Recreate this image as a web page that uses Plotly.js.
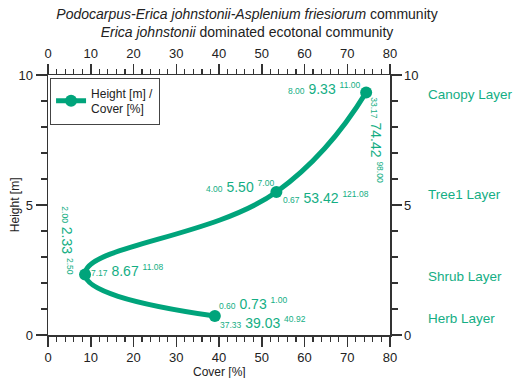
<!DOCTYPE html>
<html>
<head>
<meta charset="utf-8">
<script src="https://cdn.plot.ly/plotly-3.0.1.min.js"></script>
<style>
  html, body { margin: 0; padding: 0; background: #fff; }
  #chart { width: 520px; height: 378px; }
</style>
</head>
<body>
<div id="chart"></div>
<script>
// Vegetation layers, ordered from the ground up
const layers = ['Herb Layer', 'Shrub Layer', 'Tree1 Layer', 'Canopy Layer'];

// Height [m]: mean with min / max
const heightMean = [0.73, 2.33, 5.50, 9.33];
const heightMin  = [0.60, 2.00, 4.00, 8.00];
const heightMax  = [1.00, 2.50, 7.00, 11.00];

// Cover [%]: mean with min / max
const coverMean = [39.03, 8.67, 53.42, 74.42];
const coverMin  = [37.33, 7.17, 0.67, 33.17];
const coverMax  = [40.92, 11.08, 121.08, 98.00];

const GREEN = '#00A47B';
const TEXT_GREEN = '#14AE84';
const FONT = 'Liberation Sans, Arial, sans-serif';
const INK = '#333';

function fmt(v) { return v.toFixed(2); }
// "min  MEAN  max" with the extremes in a small font, max raised
function rangeLabel(lo, mid, hi) {
  return '<span style="font-size:8.5px">' + fmt(lo) + '</span> ' + fmt(mid) +
         ' <sup><span style="font-size:8.5px">' + fmt(hi) + '</span></sup>';
}

const profile = {
  x: coverMean,
  y: heightMean,
  mode: 'lines+markers',
  name: 'Height [m] /<br>Cover [%]',
  line: { color: GREEN, width: 5, shape: 'spline', smoothing: 1.3 },
  marker: { color: GREEN, size: 12 },
  xaxis: 'x', yaxis: 'y'
};
// invisible trace carrying the top / right axes
const topRight = {
  x: [0], y: [0], mode: 'markers', marker: { opacity: 0 },
  showlegend: false, hoverinfo: 'skip', xaxis: 'x2', yaxis: 'y2'
};

// label placement around each point (pixel offsets)
const heightPlace = [
  { xanchor: 'left',   xshift: 2,   yshift: 13, angle: 0 },
  { xanchor: 'center', xshift: -18, yshift: 34, angle: 90 },
  { xanchor: 'right',  xshift: 0,   yshift: 6,  angle: 0 },
  { xanchor: 'right',  xshift: -4,  yshift: 4,  angle: 0 }
];
const coverPlace = [
  { xanchor: 'left',   xshift: 3,  yshift: -6,  angle: 0 },
  { xanchor: 'left',   xshift: 4,  yshift: 4,   angle: 0 },
  { xanchor: 'left',   xshift: 5,  yshift: -5,  angle: 0 },
  { xanchor: 'center', xshift: 10, yshift: -48, angle: 90 }
];

const annotations = [];
layers.forEach((name, i) => {
  const hp = heightPlace[i], cp = coverPlace[i];
  annotations.push({
    x: coverMean[i], y: heightMean[i], xref: 'x', yref: 'y',
    text: rangeLabel(heightMin[i], heightMean[i], heightMax[i]),
    showarrow: false, xanchor: hp.xanchor, yanchor: 'middle',
    xshift: hp.xshift, yshift: hp.yshift, textangle: hp.angle,
    font: { family: FONT, size: 14, color: TEXT_GREEN }
  });
  annotations.push({
    x: coverMean[i], y: heightMean[i], xref: 'x', yref: 'y',
    text: rangeLabel(coverMin[i], coverMean[i], coverMax[i]),
    showarrow: false, xanchor: cp.xanchor, yanchor: 'middle',
    xshift: cp.xshift, yshift: cp.yshift, textangle: cp.angle,
    font: { family: FONT, size: 14, color: TEXT_GREEN }
  });
  // layer name beside the right axis
  annotations.push({
    x: 1, y: heightMean[i], xref: 'paper', yref: 'y',
    text: name, showarrow: false, xanchor: 'left', yanchor: 'middle',
    xshift: 36, yshift: -2,
    font: { family: FONT, size: 13.5, color: TEXT_GREEN }
  });
});

// axis titles
const titleFont = { family: FONT, size: 12, color: '#222' };
annotations.push({
  x: 0.5, y: -0.142, xref: 'paper', yref: 'paper', text: 'Cover [%]',
  showarrow: false, xanchor: 'center', yanchor: 'middle', font: titleFont
});
annotations.push({
  x: -0.096, y: 0.5, xref: 'paper', yref: 'paper', text: 'Height [m]',
  showarrow: false, xanchor: 'center', yanchor: 'middle', textangle: -90, font: titleFont
});

const tickFont = { family: FONT, size: 13, color: '#222' };
const axisCommon = {
  showgrid: false, zeroline: false, showline: true,
  linecolor: INK, linewidth: 1.5,
  ticks: 'outside', ticklen: 10, tickwidth: 1.5, tickcolor: INK,
  tickfont: tickFont
};
const minorX = { dtick: 2, ticks: 'outside', ticklen: 5, tickwidth: 1.2, tickcolor: INK };
const minorY = { dtick: 1, ticks: 'outside', ticklen: 6, tickwidth: 1.2, tickcolor: INK };

const layout = {
  width: 520, height: 378,
  margin: { l: 48, r: 130, t: 75, b: 43 },
  paper_bgcolor: '#fff', plot_bgcolor: '#fff',
  font: { family: FONT, color: '#222' },
  title: {
    text: '<i>Podocarpus-Erica johnstonii-Asplenium friesiorum</i> community<br>' +
          '<i>Erica johnstonii</i> dominated ecotonal community',
    font: { family: FONT, size: 14, color: '#222' },
    x: 0.475, xref: 'container', xanchor: 'center',
    y: 0.949, yref: 'container', yanchor: 'top'
  },
  xaxis: Object.assign({}, axisCommon, { range: [0, 80], dtick: 10, side: 'bottom', minor: minorX }),
  xaxis2: Object.assign({}, axisCommon, { range: [0, 80], dtick: 10, side: 'top', overlaying: 'x', minor: minorX }),
  yaxis: Object.assign({}, axisCommon, { range: [0, 10], dtick: 5, side: 'left', ticklen: 11, minor: minorY }),
  yaxis2: Object.assign({}, axisCommon, { range: [0, 10], dtick: 5, side: 'right', overlaying: 'y', minor: minorY }),
  showlegend: true,
  legend: {
    x: 0.006, y: 0.99, xanchor: 'left', yanchor: 'top',
    bgcolor: '#fff', bordercolor: '#444', borderwidth: 1,
    font: { family: FONT, size: 12, color: '#222' },
    itemwidth: 30, tracegroupgap: 0
  },
  annotations: annotations
};

Plotly.newPlot('chart', [profile, topRight], layout,
  { displayModeBar: false, staticPlot: true });
</script>
</body>
</html>
